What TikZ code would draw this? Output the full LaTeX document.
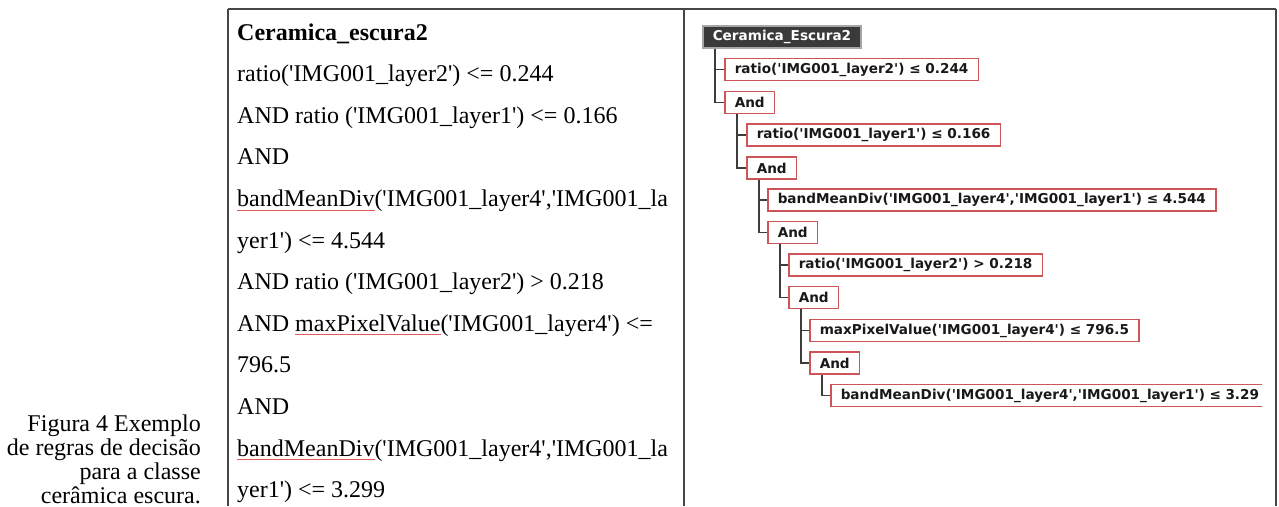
\documentclass[tikz,border=0pt]{standalone}
\usepackage{fontspec}
\usetikzlibrary{calc}
\newfontfamily\tnr{Liberation Serif}
\newfontfamily\treefont{DejaVu Sans}
\definecolor{boxred}{RGB}{205,85,90}
\definecolor{rootfill}{RGB}{58,58,58}
\definecolor{linegray}{RGB}{60,60,60}
\definecolor{tablegray}{RGB}{70,70,70}
\definecolor{ulred}{RGB}{225,90,90}
\newsavebox\myulbox
\newcommand{\redul}[1]{\sbox\myulbox{#1}\rlap{\textcolor{ulred}{\rule[-4pt]{\wd\myulbox}{0.9pt}}}\usebox\myulbox}
\tikzset{
  lefttxt/.style={anchor=base west, inner sep=0pt, font=\tnr\fontsize{24}{28}\selectfont},
  captxt/.style={anchor=base east, inner sep=0pt, font=\tnr\fontsize{24}{28}\selectfont},
  tbox/.style={draw=boxred, fill=white, line width=1.5pt, anchor=west, minimum height=22pt,
    inner xsep=10pt, inner ysep=0pt, text=black!90, font=\treefont\bfseries\fontsize{13.6}{15}\selectfont},
  rootbox/.style={tbox, draw=gray!70, fill=rootfill, text=white},
  conn/.style={draw=linegray, line width=1.4pt},
  tableline/.style={draw=tablegray, line width=1.3pt}
}
\begin{document}
\begin{tikzpicture}[x=1pt,y=-1pt]
\useasboundingbox (0,0) rectangle (1279,506);
\clip (0,0) rectangle (1279,506);
% table lines
\draw[tableline] (228,9) -- (1276,9);
\draw[tableline] (228,9) -- (228,506);
\draw[tableline] (684,9) -- (684,506);
\draw[tableline, line width=2pt] (1276,9) -- (1276,506);
% caption
\node[captxt] (cap1) at (201,431) {Figura 4 Exemplo};
\node[captxt] (cap2) at (201,455) {de regras de decisão};
\node[captxt] (cap3) at (201,479) {para a classe};
\node[captxt] (cap4) at (201,503) {cerâmica escura.};
% left text
\node[lefttxt] (l1) at (237,40) {\bfseries Ceramica\_escura2};
\node[lefttxt] (l2) at (237,81.6) {ratio('IMG001\_layer2') <= 0.244};
\node[lefttxt] (l3) at (237,123.2) {AND ratio ('IMG001\_layer1') <= 0.166};
\node[lefttxt] (l4) at (237,164.8) {AND};
\node[lefttxt] (l5) at (237,206.4) {\redul{bandMeanDiv}('IMG001\_layer4','IMG001\_la};
\node[lefttxt] (l6) at (237,248) {yer1') <= 4.544};
\node[lefttxt] (l7) at (237,289.6) {AND ratio ('IMG001\_layer2') > 0.218};
\node[lefttxt] (l8) at (237,331.2) {AND \redul{maxPixelValue}('IMG001\_layer4') <=};
\node[lefttxt] (l9) at (237,372.8) {796.5};
\node[lefttxt] (l10) at (237,414.4) {AND};
\node[lefttxt] (l11) at (237,456) {\redul{bandMeanDiv}('IMG001\_layer4','IMG001\_la};
\node[lefttxt] (l12) at (237,497.6) {yer1') <= 3.299};
% tree
\node[rootbox] (root) at (702,37) {Ceramica\_Escura2};
\node[tbox] (r1) at (724,69.5) {ratio('IMG001\_layer2') ≤ 0.244};
\node[tbox] (a1) at (724,102.5) {And};
\node[tbox] (r2) at (746,135) {ratio('IMG001\_layer1') ≤ 0.166};
\node[tbox] (a2) at (746,168) {And};
\node[tbox] (r3) at (767,200) {bandMeanDiv('IMG001\_layer4','IMG001\_layer1') ≤ 4.544};
\node[tbox] (a3) at (767,232.5) {And};
\node[tbox] (r4) at (788,265) {ratio('IMG001\_layer2') > 0.218};
\node[tbox] (a4) at (788,297.5) {And};
\node[tbox] (r5) at (809,330.5) {maxPixelValue('IMG001\_layer4') ≤ 796.5};
\node[tbox] (a5) at (809,363) {And};
\begin{scope}
\clip (684,0) rectangle (1262,506);
\node[tbox, text width=440pt, align=left] (r6) at (830,395.5) {bandMeanDiv('IMG001\_layer4','IMG001\_layer1') ≤ 3.29};
\end{scope}
% connectors
\draw[conn] ($(root.south west)+(13,0)$) |- (r1.west);
\draw[conn] ($(root.south west)+(13,0)$) |- (a1.west);
\draw[conn] ($(a1.south west)+(13,0)$) |- (r2.west);
\draw[conn] ($(a1.south west)+(13,0)$) |- (a2.west);
\draw[conn] ($(a2.south west)+(13,0)$) |- (r3.west);
\draw[conn] ($(a2.south west)+(13,0)$) |- (a3.west);
\draw[conn] ($(a3.south west)+(13,0)$) |- (r4.west);
\draw[conn] ($(a3.south west)+(13,0)$) |- (a4.west);
\draw[conn] ($(a4.south west)+(13,0)$) |- (r5.west);
\draw[conn] ($(a4.south west)+(13,0)$) |- (a5.west);
\draw[conn] ($(a5.south west)+(13,0)$) |- (r6.west);
\end{tikzpicture}
\end{document}
